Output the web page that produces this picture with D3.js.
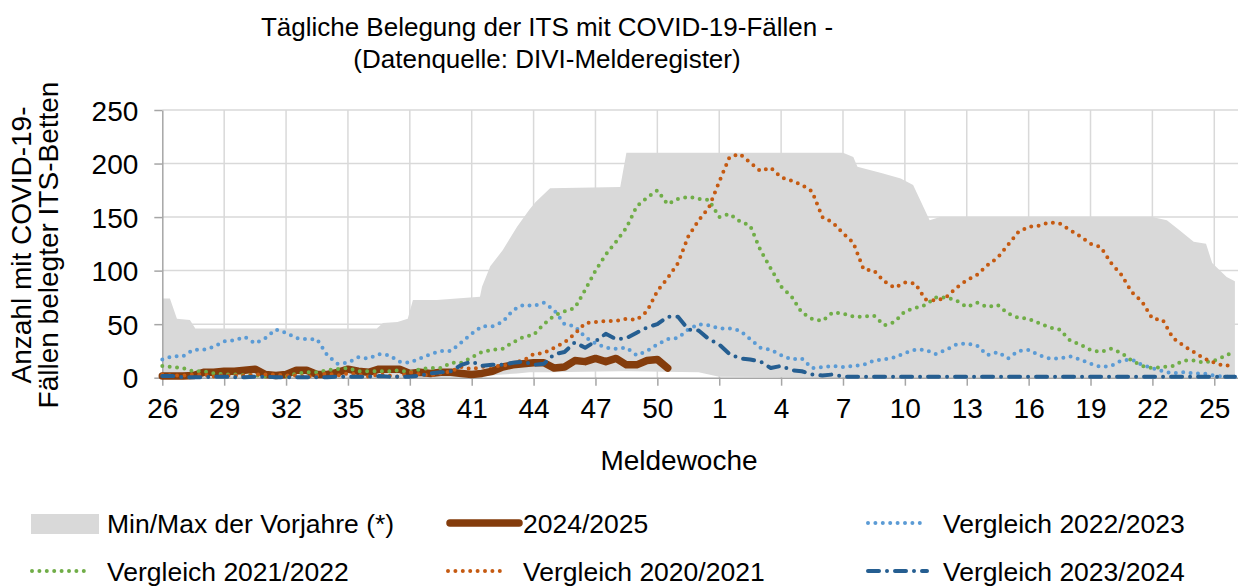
<!DOCTYPE html>
<html>
<head>
<meta charset="utf-8">
<title>ITS COVID-19</title>
<script src="https://cdn.jsdelivr.net/npm/d3@7"></script>
<style>
  body { margin: 0; background: #fff; }
  text { font-family: "Liberation Sans", Arial, sans-serif; fill: #000; }
</style>
</head>
<body>
<svg width="1238" height="586"></svg>
<script>
// x: weeks since reporting week 26, one value every half week
var weekLabels = ["26","29","32","35","38","41","44","47","50","1","4","7","10","13","16","19","22","25"];
var steps = d3.range(0, 52.01, 0.5);

// min/max of previous seasons (grey band), read at the corners of its outline
var bandWeek = [0, 0.37, 0.71, 1.34, 1.6, 10.4, 10.7, 11.4, 11.9, 12.15, 13.3, 15.4, 15.5, 15.9, 16.5, 17.2, 17.8, 18.1, 18.8, 22.2, 22.5, 26, 27, 33, 33.5, 33.7, 34.9, 35.8, 36.4, 37.2, 37.7, 48, 48.7, 49.3, 50, 50.6, 50.9, 51.6, 52];
var bandMax  = [74, 74, 55, 54, 46, 46, 51, 52, 55, 72.5, 72.5, 75.6, 85, 104, 119, 141, 157, 164, 177, 178, 210, 210, 210, 210, 206, 197, 191, 186, 180, 147, 150, 150, 147, 138, 127, 125, 107, 94, 90];
var bandMin  = [0, 0, 0, 0, 0, 0, 0, 0, 0, 0, 0, 1, 1, 2, 3, 4, 5, 5, 5, 6, 6, 5, 1, 0, 0, 0, 0, 0, 0, 0, 0, 0, 0, 0, 0, 0, 0, 0, 0];

var s2425 = [1.5,1.5,1.5,2,5,5,6,6,7,8, 3,2,3,7,7,3,3,5,8,6, 5,8,8,8,4,5,4,5,5,4,
             3,4,6,10,12,13,14,14,9,10, 16,15,18,15,18,12,12,16,17,9];
var s2223 = [17,20,20,26,26,29,34,35,38,32, 37,45,42,37,36,36,21,13,14,19, 18,22,21,15,14,18,22,25,25,33,
             41,48,48,52,63,68,67,70,63,50, 48,38,32,28,27,28,21,25,31,36, 37,45,50,49,46,46,44,36,28,26,
             21,17,18,9,10,11,10,11,12,16, 17,19,23,26,26,22,26,31,32,30, 21,24,18,25,26,21,18,18,20,17,
             13,10,11,16,17,12,9,6,4,5, 4,4,2,1,1];
var s2122 = [11,10,9,6,6,4,3,3,2.5,2.5, 1,0.5,1,4,5,5,7,8,9,6, 6,6,6,7,5,8,9,9,14,14,
             19,24,26,27,33,38,40,50,58,62, 65,82,100,115,127,140,160,168,175,162, 167,169,167,166,150,153,146,142,119,102,
             85,76,61,55,53,61,60,57,57,58, 49,52,62,65,68,75,75,72,66,70, 66,68,60,56,55,51,47,45,35,31,
             26,24,27,23,16,11,9,10,11,16, 16,14,16,20,25];
var s2021 = [3,2,2,3,3,1,2,2,2,3, 3,3,2,2,1,2,4,2,4,3, 1,3,2,1,5,3,2,4,6,10,
             8,10,11,11,14,16,22,23,28,33, 41,51,52,53,53,55,54,62,81,93, 107,132,147,159,183,206,209,201,193,196,
             187,184,180,174,150,145,135,126,101,100, 90,84,89,88,73,72,75,84,91,96, 105,112,124,136,141,142,145,144,138,132,
             125,122,107,96,80,71,55,54,37,30, 24,18,14,11,12];
var s2324 = [1.5,1.5,0.5,0.5,0.5,1,1,0.5,0.5,1, 1,0.5,0.5,0.5,0.5,0.5,0.5,1,1,1, 1,1.5,1,1,1,2,4,5,6,12,
             15,11,12,12,14,15,12,13,22,24, 33,28,34,41,36,37,42,47,50,57, 57,45,44,36,31,22,18,17,15,9,
             11,7,6,3,2,3,1,1,1,1, 1,1,1,1,1,1,1,1,1,1, 1,1,1,1,1,1,1,1,1,1,
             1,1,1,1,1,1,1,1,1,1, 1,1,1,1,1];

var svg = d3.select("svg");

var x = d3.scaleLinear().domain([0, 52.15]).range([162.3, 1238]);
var y = d3.scaleLinear().domain([0, 250]).range([377.7, 110]);

// gridlines
svg.append("g")
  .selectAll("line.h")
  .data(y.ticks(5).slice(1))
  .enter().append("line")
    .attr("x1", x(0)).attr("x2", 1238)
    .attr("y1", function(d) { return y(d); })
    .attr("y2", function(d) { return y(d); })
    .attr("stroke", "#d9d9d9").attr("stroke-width", 1.5);
svg.append("g")
  .selectAll("line.v")
  .data(d3.range(1, weekLabels.length))
  .enter().append("line")
    .attr("x1", function(i) { return x(i * 3); })
    .attr("x2", function(i) { return x(i * 3); })
    .attr("y1", y(250)).attr("y2", y(0))
    .attr("stroke", "#d9d9d9").attr("stroke-width", 1.5);

// grey min/max band
var band = bandWeek.map(function(w, i) { return [w, bandMin[i], bandMax[i]]; });
svg.append("path")
  .datum(band)
  .attr("fill", "#d9d9d9")
  .attr("d", d3.area()
    .x(function(d) { return x(d[0]); })
    .y0(function(d) { return y(d[1]); })
    .y1(function(d) { return y(d[2]); }));

// axes
var xAxis = svg.append("g")
  .attr("transform", "translate(0," + y(0) + ")")
  .call(d3.axisBottom(x)
    .tickValues(weekLabels.map(function(d, i) { return i * 3; }))
    .tickFormat(function(d) { return weekLabels[d / 3]; })
    .tickSize(8).tickSizeOuter(0).tickPadding(12));
var yAxis = svg.append("g")
  .attr("transform", "translate(" + x(0) + ",0)")
  .call(d3.axisLeft(y).ticks(5).tickSize(8).tickSizeOuter(0).tickPadding(16));
[xAxis, yAxis].forEach(function(a) {
  a.select(".domain").attr("stroke", "#a6a6a6").attr("stroke-width", 1.5);
  a.selectAll(".tick line").attr("stroke", "#a6a6a6").attr("stroke-width", 1.5);
  a.selectAll(".tick text").attr("font-size", 28).attr("font-family", "Liberation Sans, Arial, sans-serif").attr("fill", "#000");
});
yAxis.selectAll(".tick text").attr("dy", "0.36em");

// series
var line = d3.line()
  .x(function(d) { return x(d[0]); })
  .y(function(d) { return y(d[1]); });

var series = [
  {name: "2024/2025", values: s2425, color: "#843c0c", width: 7.5, dash: null},
  {name: "Vergleich 2022/2023", values: s2223, color: "#5b9bd5", width: 4, dash: "0 7.4"},
  {name: "Vergleich 2021/2022", values: s2122, color: "#70ad47", width: 4, dash: "0 7.4"},
  {name: "Vergleich 2020/2021", values: s2021, color: "#c55a11", width: 4, dash: "0 7.4"},
  {name: "Vergleich 2023/2024", values: s2324, color: "#255e91", width: 4, dash: "11 8 0 8"}
];

series.forEach(function(s) {
  svg.append("path")
    .datum(s.values.map(function(v, i) { return [steps[i], v]; }))
    .attr("fill", "none")
    .attr("stroke", s.color)
    .attr("stroke-width", s.width)
    .attr("stroke-linecap", "round")
    .attr("stroke-linejoin", "round")
    .attr("stroke-dasharray", s.dash)
    .attr("d", line);
});

// titles
svg.append("text")
  .attr("x", 547).attr("y", 36)
  .attr("text-anchor", "middle").attr("font-size", 26)
  .text("Tägliche Belegung der ITS mit COVID-19-Fällen -");
svg.append("text")
  .attr("x", 547).attr("y", 68)
  .attr("text-anchor", "middle").attr("font-size", 26)
  .text("(Datenquelle: DIVI-Melderegister)");

svg.append("text")
  .attr("x", 679).attr("y", 470)
  .attr("text-anchor", "middle").attr("font-size", 28)
  .text("Meldewoche");

svg.append("text")
  .attr("transform", "translate(31,245) rotate(-90)")
  .attr("text-anchor", "middle").attr("font-size", 28)
  .text("Anzahl mit COVID-19-");
svg.append("text")
  .attr("transform", "translate(58,245) rotate(-90)")
  .attr("text-anchor", "middle").attr("font-size", 28)
  .text("Fällen belegter ITS-Betten");

// legend
var legendItems = [
  {label: "Min/Max der Vorjahre (*)", band: true, col: 0, row: 0},
  {label: series[0].name, s: series[0], col: 1, row: 0},
  {label: series[1].name, s: series[1], col: 2, row: 0},
  {label: series[2].name, s: series[2], col: 0, row: 1},
  {label: series[3].name, s: series[3], col: 1, row: 1},
  {label: series[4].name, s: series[4], col: 2, row: 1}
];
var colX = [31, 447, 867];
var rowY = [523, 571];

legendItems.forEach(function(d) {
  var lx = colX[d.col], ly = rowY[d.row];
  var g = svg.append("g").attr("transform", "translate(" + lx + "," + ly + ")");
  if (d.band) {
    g.append("rect").attr("x", 0).attr("y", -9).attr("width", 68).attr("height", 20).attr("fill", "#d9d9d9");
  } else {
    var thick = d.s.width > 5;
    g.append("line")
      .attr("x1", thick ? 3 : 1).attr("x2", thick ? 72 : 60).attr("y1", 0).attr("y2", 0)
      .attr("stroke", d.s.color)
      .attr("stroke-width", d.s.width)
      .attr("stroke-linecap", "round")
      .attr("stroke-dasharray", d.s.dash);
  }
  g.append("text")
    .attr("x", 76).attr("y", 10)
    .attr("font-size", 26.5)
    .text(d.label);
});
</script>
</body>
</html>
